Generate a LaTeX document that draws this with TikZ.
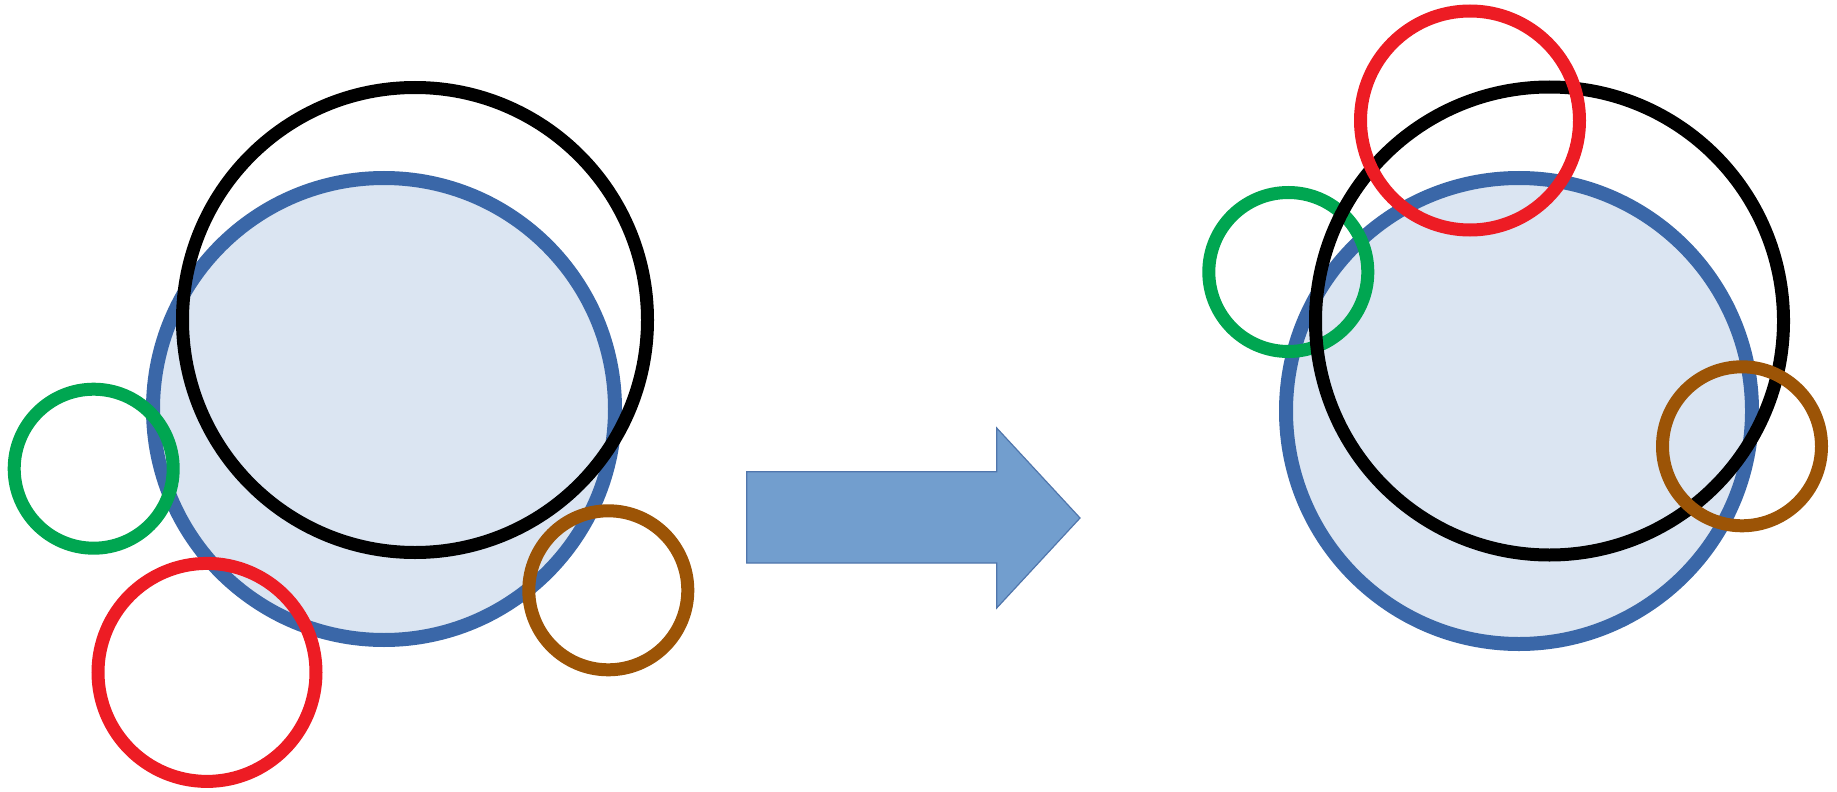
\documentclass[tikz,border=0pt]{standalone}
\begin{document}
\begin{tikzpicture}[x=0.5pt,y=-0.5pt]
\definecolor{bluestroke}{RGB}{58,103,168}
\definecolor{bluefill}{RGB}{219,229,242}
\definecolor{ringgreen}{RGB}{0,166,81}
\definecolor{ringred}{RGB}{237,28,36}
\definecolor{ringbrown}{RGB}{156,84,6}
\definecolor{arrowfill}{RGB}{114,158,206}
\definecolor{arrowline}{RGB}{80,118,172}
\tikzset{
  bigdisc/.style={draw=bluestroke,fill=bluefill,line width=7pt},
  blackring/.style={draw=black,line width=6.5pt},
  greenring/.style={draw=ringgreen,line width=6.5pt},
  redring/.style={draw=ringred,line width=6.5pt},
  brownring/.style={draw=ringbrown,line width=6.5pt},
  bigarrow/.style={draw=arrowline,fill=arrowfill,line width=0.6pt}
}
\useasboundingbox (0,0) rectangle (1837,792);
\fill[white] (0,0) rectangle (1837,792);
% left group
\draw[bigdisc] (384,409) circle[radius=231];
\draw[blackring] (415,320) circle[radius=232.5];
\draw[greenring] (93.7,468.7) circle[radius=79.5];
\draw[redring] (207,672.4) circle[radius=109];
\draw[brownring] (608.3,590.3) circle[radius=79.5];
% arrow
\draw[bigarrow] (746.7,471.7) -- (996.7,471.7) -- (996.7,428) -- (1080,518) -- (996.7,608) -- (996.7,563) -- (746.7,563) -- cycle;
% right group
\draw[bigdisc] (1519,411) circle[radius=233];
\draw[greenring] (1288.3,272) circle[radius=79.5];
\draw[blackring] (1549.5,321) circle[radius=234];
\draw[redring] (1470,120.5) circle[radius=109.5];
\draw[brownring] (1742,446.3) circle[radius=79.5];
\end{tikzpicture}
\end{document}
